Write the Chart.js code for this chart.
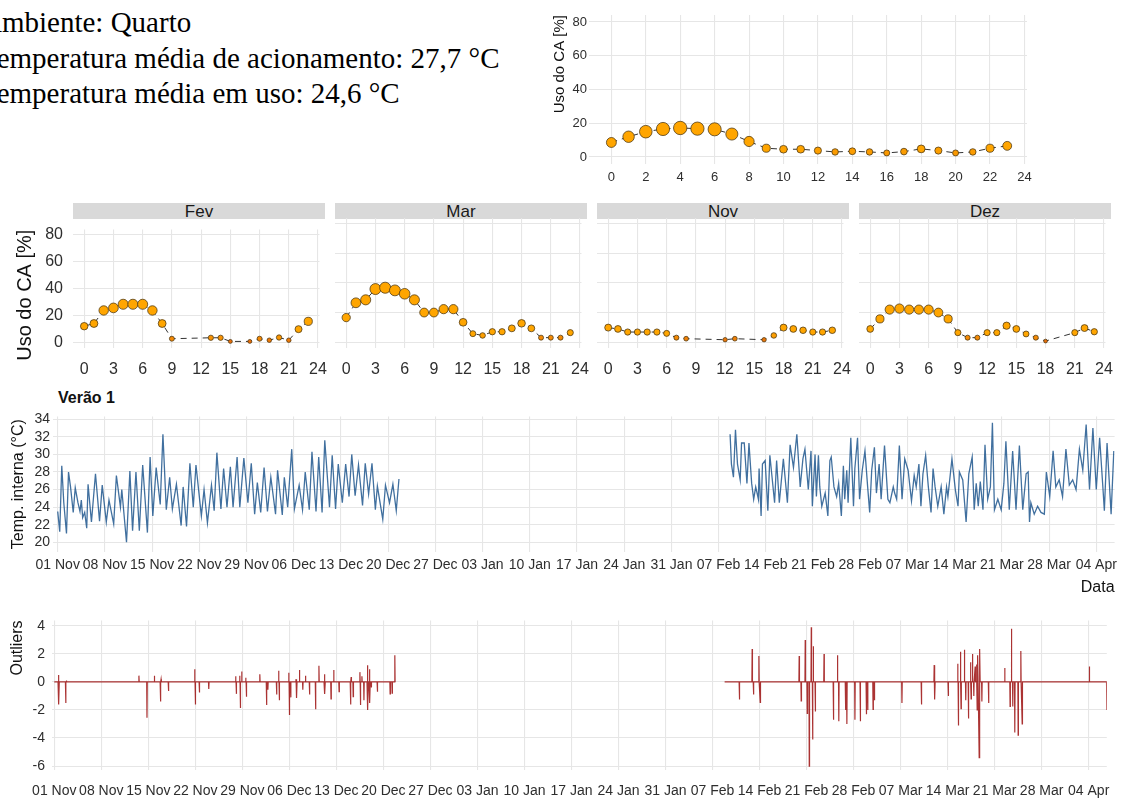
<!DOCTYPE html>
<html lang="pt-BR">
<head>
<meta charset="utf-8">
<title>Uso do CA - Quarto</title>
<script src="https://cdn.jsdelivr.net/npm/chart.js@4.4.1/dist/chart.umd.min.js"></script>
<style>
  html, body { margin: 0; padding: 0; background: #fff; }
  #page { position: relative; width: 1122px; height: 799px; overflow: hidden; font-family: "Liberation Sans", Arial, sans-serif; }
  canvas { position: absolute; }
  .info { position: absolute; left: -19px; top: 5px; font-family: "Liberation Serif", "Times New Roman", serif; font-size: 29px; line-height: 35.5px; color: #000; white-space: nowrap; }
  .strip { position: absolute; top: 203px; width: 252px; height: 16px; background: #d9d9d9; color: #1a1a1a; font-size: 17px; line-height: 17px; text-align: center; }
  .title { position: absolute; left: 58px; top: 389px; font-weight: bold; font-size: 16px; color: #111; }
</style>
</head>
<body>
<div id="page">
  <div class="info">Ambiente: Quarto<br>Temperatura média de acionamento: 27,7 °C<br>Temperatura média em uso: 24,6 °C</div>
  <div class="strip" style="left:73px">Fev</div>
  <div class="strip" style="left:335px">Mar</div>
  <div class="strip" style="left:597px">Nov</div>
  <div class="strip" style="left:859px">Dez</div>
  <div class="title">Verão 1</div>
</div>

<script>
// hourly AC usage [%], whole period and per month
const hoursAll = [0,1,2,3,4,5,6,7,8,9,10,11,12,13,14,15,16,17,18,19,20,21,22,23];
const useAll = [8.6,12,15,16.6,17.2,16.8,16.4,13.6,9.2,5.2,4.6,4.6,3.8,3,3.4,3,2.4,3.2,4.8,3.8,2.4,3,5.2,6.6];

const hoursFev = [0,1,2,3,4,5,6,7,8,9,13,14,15,17,18,19,20,21,22,23];
const useFev = [12.2,14.2,23.9,25.8,28.5,28.5,28.5,23.9,14.2,2.9,3.6,3.6,0.9,0.9,2.9,1.8,3.8,1.8,10,15.8];

const hoursMar = [0,1,2,3,4,5,6,7,8,9,10,11,12,13,14,15,16,17,18,19,20,21,22,23];
const useMar = [16.6,26.6,28.6,35.9,36.8,35,32.7,28.6,20,20,22.3,22.3,13.4,5.7,4.5,7,7,9.3,12.7,9.3,3,3,3,6.4];

const hoursNov = [0,1,2,3,4,5,6,7,8,12,13,16,17,18,19,20,21,22,23];
const useNov = [9.8,8.9,6.8,6.8,6.8,6.8,5.9,3,2.3,1.6,2.3,1.6,4.5,9.8,8.9,8,6.8,6.8,8];

const hoursDez = [0,1,2,3,4,5,6,7,8,9,10,11,12,13,14,15,16,17,18,21,22,23];
const useDez = [8.9,15.7,22,22.7,22,22,22,20,15.7,6.4,3,3,6.4,6.4,11.1,8.9,5.5,3,0.7,6.4,9.5,7];

// x axis of the time series: days counted from 01 Nov, one tick per week
const dateTicks = ["01 Nov","08 Nov","15 Nov","22 Nov","29 Nov","06 Dec","13 Dec","20 Dec","27 Dec","03 Jan",
  "10 Jan","17 Jan","24 Jan","31 Jan","07 Feb","14 Feb","21 Feb","28 Feb","07 Mar","14 Mar","21 Mar","28 Mar","04 Apr"];

// indoor temperature [day, °C]
const tempNovDec = [[0.0,23.5],[0.3,21.2],[0.6,28.7],[0.9,24.5],[1.3,21.0],[1.6,28.0],[1.9,26.3],[2.3,23.4],[2.6,26.2],
  [3.0,24.5],[3.3,23.5],[3.5,24.8],[3.7,22.8],[4.0,23.4],[4.3,21.6],[4.5,26.6],[5.0,22.3],[5.6,27.8],[6.2,22.4],[6.6,26.5],
  [7.2,22.3],[7.6,24.8],[8.3,22.1],[8.7,27.6],[9.3,24.0],[9.5,26.0],[10.2,20.0],[10.7,28.1],[11.1,21.3],[11.6,28.0],
  [12.1,21.3],[12.6,28.8],[13.3,21.1],[13.7,29.7],[14.1,23.0],[14.6,28.5],[15.2,24.3],[15.6,32.3],[16.1,23.7],[16.6,27.4],
  [17.0,23.8],[17.6,26.6],[18.3,21.9],[18.6,26.3],[19.1,21.8],[19.6,29.0],[20.1,24.0],[20.5,28.8],[21.3,23.0],[21.7,26.0],
  [22.2,22.2],[22.8,26.5],[23.2,23.6],[23.6,30.2],[24.2,23.8],[24.6,28.4],[25.1,24.0],[25.6,28.6],[26.0,24.0],[26.6,29.7],
  [27.0,24.0],[27.6,29.6],[28.2,24.5],[28.7,29.0],[29.2,23.2],[29.6,26.8],[30.1,23.4],[30.6,28.5],[31.1,23.5],[31.6,27.4],
  [32.3,23.2],[32.6,28.2],[33.3,23.1],[33.6,27.4],[34.1,24.0],[34.7,30.6],[35.1,23.8],[35.8,26.5],[36.3,23.7],[36.7,28.0],
  [37.3,23.7],[37.7,30.3],[38.3,23.5],[38.7,29.7],[39.2,23.4],[39.6,31.6],[40.3,24.0],[40.7,29.9],[41.2,23.8],[41.6,28.9],
  [42.2,24.5],[42.7,28.9],[43.2,25.2],[43.6,30.0],[44.1,25.3],[44.6,28.8],[45.2,24.2],[45.6,29.0],[46.1,25.5],[46.6,29.0],
  [47.1,23.7],[47.4,26.4],[48.2,22.6],[48.6,26.5],[49.2,24.5],[49.7,26.6],[50.2,23.6],[50.6,27.2]];

const tempFebApr = [[99.7,32.3],[99.9,28.9],[100.2,27.4],[100.5,32.8],[100.8,28.9],[101.2,27.1],[101.4,31.3],[101.8,31.3],
  [102.2,26.7],[102.5,31.3],[102.9,26.7],[103.2,24.9],[103.5,26.3],[103.9,24.9],[104.0,28.4],[104.3,23.0],[104.5,28.9],
  [104.9,29.3],[105.3,23.6],[105.6,29.9],[106.3,24.5],[106.6,29.3],[107.0,24.5],[107.6,29.5],[108.2,24.5],[108.6,31.1],
  [109.1,28.5],[109.6,32.3],[110.1,26.3],[110.5,29.5],[110.8,30.6],[111.3,26.0],[111.7,30.4],[111.9,24.1],[112.3,30.0],
  [112.5,25.2],[112.8,29.9],[113.0,26.3],[113.3,24.1],[113.8,25.6],[114.2,23.0],[114.5,29.3],[114.7,29.7],[115.1,26.3],
  [115.5,25.2],[115.8,26.7],[116.2,23.0],[116.5,28.7],[116.7,24.9],[117.0,28.2],[117.2,24.5],[117.6,31.9],[118.0,24.1],
  [118.2,28.4],[118.6,31.9],[118.9,24.9],[119.3,28.2],[119.7,30.4],[120.1,26.3],[120.4,23.4],[120.7,28.2],[121.1,30.8],
  [121.4,25.6],[121.8,28.9],[122.1,24.9],[122.6,31.0],[123.1,24.9],[123.4,24.5],[123.9,26.3],[124.1,25.6],[124.4,24.9],
  [124.8,31.0],[125.2,24.9],[125.6,29.5],[126.1,28.2],[126.6,24.7],[127.0,27.6],[127.3,26.3],[127.7,28.9],[128.0,24.1],
  [128.3,27.8],[128.7,29.9],[129.1,26.3],[129.5,23.4],[129.8,28.4],[130.1,26.3],[130.5,24.1],[131.0,26.3],[131.4,23.2],
  [131.8,26.3],[132.0,25.2],[132.6,29.5],[133.1,26.0],[133.5,24.1],[133.7,28.0],[134.2,27.1],[134.7,22.3],[135.1,27.8],
  [135.6,29.7],[135.9,23.7],[136.2,26.7],[136.5,24.1],[136.8,26.9],[137.2,23.7],[137.5,31.1],[137.9,24.9],[138.3,26.3],
  [138.6,33.6],[138.9,23.7],[139.4,24.9],[139.9,23.7],[140.3,26.7],[140.6,31.5],[141.1,23.7],[141.6,30.4],[142.1,23.7],
  [142.6,31.0],[143.1,23.7],[143.6,27.8],[143.9,28.0],[144.1,22.3],[144.3,24.5],[144.8,23.2],[145.3,24.1],[145.8,23.4],
  [146.3,23.2],[146.6,28.0],[147.1,25.2],[147.6,30.4],[148.0,26.3],[148.5,27.1],[149.0,25.2],[149.5,30.6],[150.0,26.5],
  [150.5,27.1],[151.0,26.0],[151.5,30.6],[152.0,28.2],[152.5,33.4],[153.0,26.0],[153.5,33.0],[154.0,26.0],[154.5,31.9],
  [155.0,26.0],[155.2,23.6],[155.6,31.3],[156.2,23.2],[156.6,30.4]];

// outlier residuals: zero except at these hours [day, value]
const outliersNovDec = [[0.6,0.5],[0.7,-1.6],[1.7,-1.5],[1.8,0.1],[12.6,0.45],[13.8,-2.55],[14.9,0.45],[15.8,-1.4],[15.9,0.2],
  [17.0,-0.65],[20.9,0.9],[21.0,-1.6],[21.6,-0.75],[23.0,-0.5],[27.0,0.4],[27.1,-0.85],[27.6,0.45],[27.7,-1.85],[27.9,0.75],
  [28.5,0.3],[28.6,-1.05],[30.6,0.55],[31.6,-1.65],[31.8,-0.55],[33.1,-0.9],[33.4,0.8],[33.5,-1.3],[34.9,0.65],[35.0,-2.35],
  [35.2,-1.1],[36.0,0.2],[36.1,-1.15],[36.5,0.85],[37.0,-0.55],[37.4,0.45],[38.0,-0.9],[38.9,-1.95],[39.4,1.15],[40.2,0.55],
  [40.3,-0.85],[41.2,-1.2],[41.6,0.85],[42.4,-0.7],[44.1,-1.6],[44.2,0.35],[44.5,-1.05],[45.5,0.7],[45.6,-1.65],[45.8,0.4],
  [46.1,-1.3],[46.6,1.2],[46.7,-2.0],[46.9,0.9],[47.0,-1.5],[47.2,-0.4],[48.1,-0.7],[50.0,-0.85],[50.3,-0.8],[50.7,1.9]];

const outliersFebApr = [[102.0,-1.25],[103.9,2.35],[104.1,-0.9],[104.9,1.85],[105.1,-1.45],[110.9,1.85],[111.2,-1.35],
  [111.8,3.0],[112.1,-2.25],[112.4,-6.0],[112.7,3.9],[112.9,-4.1],[113.0,2.55],[113.3,-2.1],[114.6,2.0],[116.0,-2.7],
  [116.6,1.9],[116.8,-2.8],[117.8,-2.0],[118.0,-3.0],[119.2,-2.7],[120.0,-2.8],[120.9,-2.3],[121.1,-2.0],[121.9,-1.95],
  [122.1,-1.3],[126.2,-1.5],[129.1,-1.6],[131.0,1.2],[131.1,-1.25],[133.1,-1.0],[134.5,1.3],[134.6,-3.1],[134.9,2.15],
  [135.0,-1.9],[135.5,2.3],[135.7,-1.3],[136.1,-2.6],[136.4,1.4],[136.5,-1.2],[136.7,2.0],[136.9,-1.0],[137.1,1.1],
  [137.3,1.25],[137.4,-2.0],[137.5,1.9],[137.7,-5.4],[137.8,2.35],[138.1,-1.4],[139.1,-1.5],[141.5,1.0],[142.3,-1.75],
  [142.5,3.8],[142.7,-1.75],[143.0,-3.6],[143.5,-3.8],[143.9,2.2],[144.1,-3.0],[154.1,1.1],[156.7,-2.0]];
const outlierPeriods = [[0.0, 50.7], [99.8, 156.7]];

Chart.defaults.font.family = '"Liberation Sans", Arial, sans-serif';
Chart.defaults.color = '#2e2e2e';

const GRID = { color: '#e6e6e6', lineWidth: 1.1, drawTicks: false };
const NO_BORDER = { display: false };
const HOUR = 1 / 24;

function makeCanvas(left, top, w, h) {
  const c = document.createElement('canvas');
  c.width = w; c.height = h;
  c.style.left = left + 'px'; c.style.top = top + 'px';
  c.style.width = w + 'px'; c.style.height = h + 'px';
  document.getElementById('page').appendChild(c);
  return c;
}

function baseOptions(padding) {
  return {
    responsive: false,
    animation: false,
    devicePixelRatio: 1,
    layout: { padding, autoPadding: false },
    plugins: { legend: { display: false }, tooltip: { enabled: false } }
  };
}

function clamp01(t) { return Math.max(0, Math.min(1, t)); }

// darker orange for low usage, plain orange above a few percent
function facetColor(v) {
  const t = clamp01((v - 1) / 4);
  return `rgb(${Math.round(232 + 23 * t)},${Math.round(110 + 55 * t)},${Math.round(10 - 10 * t)})`;
}
function overallColor(v) {
  const t = clamp01(v / 5);
  return `rgb(${Math.round(245 + 10 * t)},${Math.round(140 + 25 * t)},0)`;
}

function hourlyChart(canvas, hours, use, cfg) {
  return new Chart(canvas, {
    type: 'line',
    data: {
      datasets: [{
        data: hours.map((h, i) => ({ x: h, y: use[i] })),
        borderColor: '#333',
        borderWidth: 1,
        borderDash: [6, 5],
        pointRadius: c => c.raw ? cfg.radius(c.raw.y) : 0,
        pointBackgroundColor: c => c.raw ? cfg.color(c.raw.y) : '#ffa500',
        pointBorderColor: 'rgba(75,55,20,0.85)',
        pointBorderWidth: 0.9,
        clip: false
      }]
    },
    options: {
      ...baseOptions(cfg.padding),
      scales: {
        x: {
          type: 'linear', min: cfg.xMin, max: 24.15,
          grid: GRID, border: NO_BORDER,
          ticks: { stepSize: cfg.xStep, includeBounds: false, autoSkip: false, maxRotation: 0, minRotation: 0,
                   padding: cfg.xPad, font: { size: cfg.font } },
          afterFit: s => { s.height = cfg.xHeight; }
        },
        y: {
          min: cfg.yMin, max: cfg.yMax,
          grid: GRID, border: NO_BORDER,
          ticks: { display: cfg.yLabels, stepSize: 20, includeBounds: false, autoSkip: false,
                   padding: cfg.yPad, font: { size: cfg.font } },
          title: { display: cfg.yLabels, text: 'Uso do CA [%]', align: 'end', color: '#111',
                   font: { size: cfg.titleSize }, padding: { top: cfg.titlePad, bottom: 0 } },
          afterFit: s => { s.width = cfg.yWidth; }
        }
      }
    }
  });
}

// whole period, top right
hourlyChart(makeCanvas(547, 0, 493, 192), hoursAll, useAll, {
  padding: { top: 15, right: 13, left: 0, bottom: 0 },
  xMin: -1.3, xStep: 2, xPad: 6, xHeight: 28,
  yMin: -4.15, yMax: 84.15, yLabels: true, yPad: 2, yWidth: 42,
  font: 13, titleSize: 15, titlePad: 4,
  radius: v => 0.8 + 1.42 * Math.sqrt(v),
  color: overallColor
});

// monthly facets
const facets = [
  { hours: hoursFev, use: useFev, left: 0,   labels: true },
  { hours: hoursMar, use: useMar, left: 321, labels: false },
  { hours: hoursNov, use: useNov, left: 583, labels: false },
  { hours: hoursDez, use: useDez, left: 845, labels: false }
];
facets.forEach(f => {
  const width = f.labels ? 339 : 280;
  hourlyChart(makeCanvas(f.left, 210, width, 175), f.hours, f.use, {
    padding: { top: 8, right: 14, left: f.labels ? 0 : 14, bottom: 0 },
    xMin: -1.15, xStep: 3, xPad: 12, xHeight: 37,
    yMin: -4, yMax: 84, yLabels: f.labels, yPad: 10, yWidth: f.labels ? 73 : 0,
    font: 16, titleSize: 20, titlePad: 13,
    radius: v => 1.3 + 0.7 * Math.sqrt(v),
    color: facetColor
  });
});

function dateAxis(min, max, pad, height, title) {
  return {
    type: 'linear', min, max,
    grid: GRID, border: NO_BORDER,
    ticks: { stepSize: 7, includeBounds: false, autoSkip: false, maxRotation: 0, minRotation: 0,
             padding: pad, font: { size: 14 }, callback: v => dateTicks[Math.round(v / 7)] },
    title: title || { display: false },
    afterFit: s => { s.height = height; }
  };
}

const toPoints = rows => rows.map(([d, v]) => ({ x: d, y: v }));

// indoor temperature, gap between the two summer stretches
new Chart(makeCanvas(0, 405, 1122, 195), {
  type: 'line',
  data: {
    datasets: [{
      data: [...toPoints(tempNovDec), { x: 75, y: null }, ...toPoints(tempFebApr)],
      borderColor: 'rgba(12,72,132,0.78)',
      borderWidth: 1.3,
      pointRadius: 0,
      spanGaps: false
    }]
  },
  options: {
    ...baseOptions({ top: 8, right: 6, left: 0, bottom: 0 }),
    scales: {
      x: dateAxis(-0.7, 156.72, 5, 48,
        { display: true, text: 'Data', align: 'end', color: '#111', font: { size: 16 }, padding: { top: 0, bottom: 3 } }),
      y: {
        min: 18.89, max: 34.33,
        grid: GRID, border: NO_BORDER,
        ticks: { stepSize: 2, includeBounds: false, autoSkip: false, padding: 3, font: { size: 14 } },
        title: { display: true, text: 'Temp. interna (°C)', color: '#111', font: { size: 16 }, padding: { top: 9, bottom: 0 } },
        afterFit: s => { s.width = 53; }
      }
    }
  }
});

// residual series: zero baseline with a one-hour spike at each outlier
function outlierSeries(start, end, spikes) {
  const pts = [{ x: start, y: 0 }];
  spikes.forEach(([d, v]) => { pts.push({ x: d - HOUR, y: 0 }, { x: d, y: v }, { x: d + HOUR, y: 0 }); });
  const last = spikes[spikes.length - 1][0];
  if (end > last + HOUR) pts.push({ x: end, y: 0 });
  return pts;
}

new Chart(makeCanvas(0, 605, 1122, 194), {
  type: 'line',
  data: {
    datasets: [{
      data: [
        ...outlierSeries(outlierPeriods[0][0], outlierPeriods[0][1], outliersNovDec),
        { x: 75, y: null },
        ...outlierSeries(outlierPeriods[1][0], outlierPeriods[1][1], outliersFebApr)
      ],
      borderColor: 'rgba(150,0,0,0.8)',
      borderWidth: 1.2,
      pointRadius: 0,
      spanGaps: false
    }]
  },
  options: {
    ...baseOptions({ top: 10, right: 6, left: 0, bottom: 0 }),
    scales: {
      x: dateAxis(-0.34, 156.7, 12.6, 29),
      y: {
        min: -6.28, max: 4.39,
        grid: GRID, border: NO_BORDER,
        ticks: { stepSize: 2, includeBounds: false, autoSkip: false, padding: 7, font: { size: 14 } },
        title: { display: true, text: 'Outliers', align: 'end', color: '#111', font: { size: 16 }, padding: { top: 8, bottom: 0 } },
        afterFit: s => { s.width = 52; }
      }
    }
  }
});
</script>
</body>
</html>
